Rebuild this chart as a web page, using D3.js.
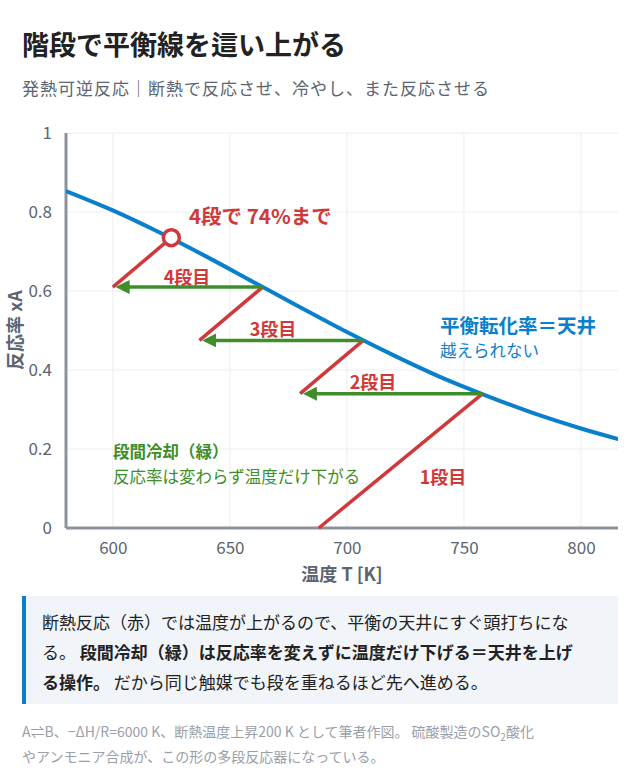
<!DOCTYPE html>
<html><head><meta charset="utf-8">
<script src="https://cdn.jsdelivr.net/npm/d3@7/dist/d3.min.js"></script>
<style>
body{margin:0;background:#fff;font-family:"Noto Sans CJK JP","Noto Sans",sans-serif;}
</style></head><body>
<svg id="c" width="640" height="779"></svg>
<script>
const eqT = [580,600,620,640,660,680,700,720,740,760,780,800,816];
const eqX = [0.853,0.804,0.748,0.687,0.623,0.559,0.496,0.437,0.382,0.334,0.290,0.252,0.225];
const stageStartT = [688,680,637,600];
const stageStartX = [0,0.34,0.475,0.61];
const stageEndT = [758,707,664,625];
const stageEndX = [0.34,0.475,0.61,0.735];
const stageLabels = ["1段目","2段目","3段目","4段目"];
const xTicks = [600,650,700,750,800];
const yTicks = [0,0.2,0.4,0.6,0.8,1];

const svg = d3.select("#c");
const F = '"Noto Sans CJK JP","Noto Sans",sans-serif';
const x = d3.scaleLinear().domain([580,800]).range([66,581]);
const y = d3.scaleLinear().domain([0,1]).range([528,133]);
const red="#d0393b", green="#3e8e2a", blue="#0a80cc", gray="#5c6470";

svg.append("text").attr("x",22).attr("y",55).attr("font-size",27).attr("font-weight",700).attr("fill","#222").attr("font-family",F).text("階段で平衡線を這い上がる");
svg.append("text").attr("x",22).attr("y",95).attr("font-size",17).attr("letter-spacing",1).attr("fill","#5b6470").attr("font-family",F).text("発熱可逆反応｜断熱で反応させ、冷やし、また反応させる");

svg.append("g").selectAll("line").data(xTicks).join("line").attr("x1",d=>x(d)).attr("x2",d=>x(d)).attr("y1",133).attr("y2",528).attr("stroke","#eceef3");
svg.append("g").selectAll("line").data(yTicks).join("line").attr("x1",66).attr("x2",618).attr("y1",d=>y(d)).attr("y2",d=>y(d)).attr("stroke","#eceef3");

const xa = svg.append("g").attr("transform","translate(0,528)").call(d3.axisBottom(x).tickValues(xTicks).tickSize(0).tickPadding(14));
xa.select(".domain").attr("d","M66,0H618").attr("stroke","#8c939d").attr("stroke-width",3);
xa.selectAll("text").attr("font-size",17).attr("fill",gray).attr("font-family",F);
const ya = svg.append("g").attr("transform","translate(66,0)").call(d3.axisLeft(y).tickValues(yTicks).tickFormat(d3.format("~g")).tickSize(0).tickPadding(14));
ya.select(".domain").attr("d","M0,133V528").attr("stroke","#8c939d").attr("stroke-width",3);
ya.selectAll("text").attr("font-size",17).attr("fill",gray).attr("font-family",F);

svg.append("text").attr("x",342).attr("y",581).attr("text-anchor","middle").attr("font-size",18).attr("font-weight",700).attr("fill",gray).attr("font-family",F).text("温度 T [K]");
svg.append("text").attr("transform","translate(22,330) rotate(-90)").attr("text-anchor","middle").attr("font-size",18).attr("font-weight",700).attr("fill",gray).attr("font-family",F).text("反応率 xA");

svg.append("clipPath").attr("id","cp").append("rect").attr("x",66).attr("y",120).attr("width",552).attr("height",410);
svg.append("path").datum(eqT.map((t,i)=>[t,eqX[i]])).attr("clip-path","url(#cp)")
  .attr("d",d3.line().x(d=>x(d[0])).y(d=>y(d[1])).curve(d3.curveMonotoneX))
  .attr("fill","none").attr("stroke",blue).attr("stroke-width",4);

svg.append("defs").append("marker").attr("id","ah").attr("viewBox","0 0 10 10").attr("refX",2).attr("refY",5)
 .attr("markerWidth",4).attr("markerHeight",4).attr("orient","auto-start-reverse")
 .append("path").attr("d","M0,0L10,5L0,10z").attr("fill",green);

for(let i=0;i<4;i++){
  svg.append("line").attr("x1",x(stageStartT[i])).attr("y1",y(stageStartX[i])).attr("x2",x(stageEndT[i])).attr("y2",y(stageEndX[i]))
   .attr("stroke",red).attr("stroke-width",3.5);
}
for(let i=1;i<4;i++){
  svg.append("line").attr("x1",x(stageEndT[i-1])).attr("y1",y(stageStartX[i])).attr("x2",x(stageStartT[i])+14).attr("y2",y(stageStartX[i]))
   .attr("stroke",green).attr("stroke-width",3.5).attr("marker-end","url(#ah)");
}
svg.append("circle").attr("cx",x(stageEndT[3])).attr("cy",y(stageEndX[3])).attr("r",8).attr("fill","#fff").attr("stroke",red).attr("stroke-width",3.5);

const lab = [[443,484],[373,389],[273,336],[187,284]];
stageLabels.forEach((s,i)=>svg.append("text").attr("x",lab[i][0]).attr("y",lab[i][1]).attr("text-anchor","middle").attr("font-size",18).attr("font-weight",700).attr("fill",red).attr("font-family",F).text(s));
svg.append("text").attr("x",189).attr("y",224).attr("font-size",20.5).attr("font-weight",700).attr("fill",red).attr("font-family",F).text("4段で 74%まで");
svg.append("text").attr("x",440).attr("y",333).attr("font-size",19.5).attr("font-weight",700).attr("fill",blue).attr("font-family",F).text("平衡転化率＝天井");
svg.append("text").attr("x",440).attr("y",357).attr("font-size",16.5).attr("fill",blue).attr("font-family",F).text("越えられない");
svg.append("text").attr("x",113).attr("y",458).attr("font-size",16.5).attr("font-weight",700).attr("fill",green).attr("font-family",F).text("段間冷却（緑）");
svg.append("text").attr("x",113).attr("y",483).attr("font-size",16.5).attr("fill",green).attr("font-family",F).text("反応率は変わらず温度だけ下がる");

svg.append("rect").attr("x",22).attr("y",596).attr("width",596).attr("height",108).attr("fill","#f1f4f9");
svg.append("rect").attr("x",22).attr("y",596).attr("width",4).attr("height",108).attr("fill",blue);
const note = svg.append("text").attr("font-size",17).attr("fill","#222").attr("font-family",F);
note.append("tspan").attr("x",42).attr("y",629).text("断熱反応（赤）では温度が上がるので、平衡の天井にすぐ頭打ちにな");
note.append("tspan").attr("x",42).attr("y",659).text("る。 ");
note.append("tspan").attr("font-weight",700).text("段間冷却（緑）は反応率を変えずに温度だけ下げる＝天井を上げ");
note.append("tspan").attr("x",42).attr("y",689).attr("font-weight",700).text("る操作。");
note.append("tspan").text(" だから同じ触媒でも段を重ねるほど先へ進める。");

const cap = svg.append("text").attr("font-size",14).attr("fill","#9aa0a8").attr("font-family",F);
cap.append("tspan").attr("x",22).attr("y",737).text("A⇌B、−ΔH/R=6000 K、断熱温度上昇200 K として筆者作図。 硫酸製造のSO");
cap.append("tspan").attr("font-size",10).attr("dy",4).text("2");
cap.append("tspan").attr("dy",-4).text("酸化");
cap.append("tspan").attr("x",22).attr("y",762).text("やアンモニア合成が、この形の多段反応器になっている。");
</script></body></html>
